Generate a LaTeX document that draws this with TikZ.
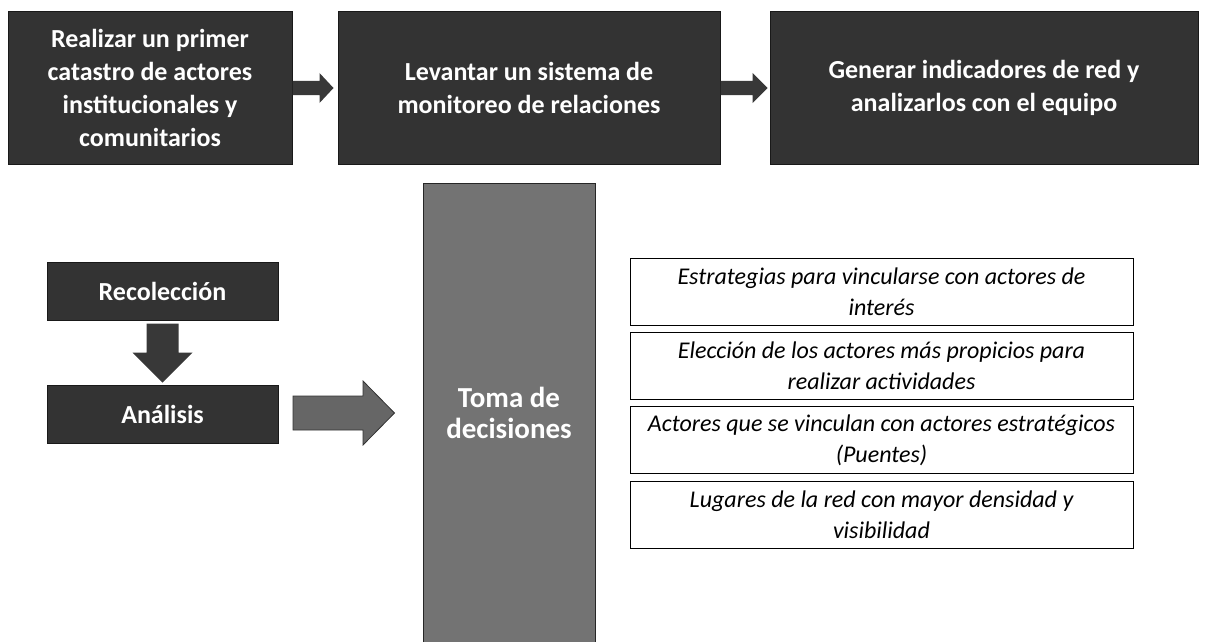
\documentclass[tikz,border=0pt]{standalone}
\usepackage{fontspec}
\setmainfont{Carlito}
\usetikzlibrary{calc}
\begin{document}
\begin{tikzpicture}[x=1pt,y=-1pt,
  darkbox/.style={fill=black!80, draw=black!90, line width=1pt, text=white,
    font=\bfseries\fontsize{26}{33}\selectfont, align=center, inner sep=0pt},
  tomabox/.style={fill=black!55, draw=black!85, line width=1pt, text=white,
    font=\bfseries\fontsize{29}{31}\selectfont, align=center, inner sep=0pt},
  listrow/.style={draw=black, line width=0.8pt, fill=white,
    font=\itshape\fontsize{24}{31}\selectfont, align=center, inner sep=0pt,
    minimum width=503pt, minimum height=67pt},
  arrowfill/.style={fill=black!78},
  bigarrow/.style={fill=black!60, draw=black!80, line width=0.8pt}]
\useasboundingbox (0,0) rectangle (1205,642);

% top row
\node[darkbox, minimum width=284pt, minimum height=152pt] (b1) at (150,88)
  {Realizar un primer\\catastro de actores\\institucionales y\\comunitarios};
\node[darkbox, minimum width=382pt, minimum height=152pt] (b2) at (529,88)
  {Levantar un sistema de\\monitoreo de relaciones};
\node[darkbox, minimum width=428pt, minimum height=152pt] (b3) at (984,88)
  {Generar indicadores de red y\\analizarlos con el equipo};

% small arrows between top boxes
\fill[arrowfill] ($(b1.east)+(0,-7)$) -- ($(b1.east)+(27,-7)$) -- ($(b1.east)+(27,-15)$)
  -- ($(b2.west)+(-4,0)$) -- ($(b1.east)+(27,15)$) -- ($(b1.east)+(27,7)$)
  -- ($(b1.east)+(0,7)$) -- cycle;
\fill[arrowfill] ($(b2.east)+(0,-7)$) -- ($(b2.east)+(32,-7)$) -- ($(b2.east)+(32,-15)$)
  -- ($(b3.west)+(-2,0)$) -- ($(b2.east)+(32,15)$) -- ($(b2.east)+(32,7)$)
  -- ($(b2.east)+(0,7)$) -- cycle;

% left column
\node[darkbox, minimum width=231pt, minimum height=58pt] (rec) at (162.5,291) {Recolección};
\node[darkbox, minimum width=231pt, minimum height=58pt] (ana) at (162.5,414) {Análisis};
\fill[arrowfill] ($(rec.south)+(-16,3)$) -- ($(rec.south)+(16,3)$) -- ($(rec.south)+(16,32)$)
  -- ($(rec.south)+(30,32)$) -- ($(ana.north)+(0,-2)$) -- ($(rec.south)+(-30,32)$)
  -- ($(rec.south)+(-16,32)$) -- cycle;

% decision column
\node[tomabox, minimum width=172pt, minimum height=460pt] (toma) at (509,413) {Toma de\\decisiones};

% big arrow
\coordinate (tail) at (293,413);
\draw[bigarrow] ($(tail)+(0,-17)$) -- ($(tail)+(70,-17)$) -- ($(tail)+(70,-32)$)
  -- ($(toma.west |- tail)+(-28,0)$) -- ($(tail)+(70,32)$) -- ($(tail)+(70,17)$)
  -- ($(tail)+(0,17)$) -- cycle;

% list
\node[listrow] (l1) at (881.5,291.5) {Estrategias para vincularse con actores de\\interés};
\node[listrow] (l2) at ($(l1.south)+(0,40.5)$) {Elección de los actores más propicios para\\realizar actividades};
\node[listrow] (l3) at ($(l2.south)+(0,40.5)$) {Actores que se vinculan con actores estratégicos\\(Puentes)};
\node[listrow] (l4) at ($(l3.south)+(0,40.5)$) {Lugares de la red con mayor densidad y\\visibilidad};
\end{tikzpicture}
\end{document}
